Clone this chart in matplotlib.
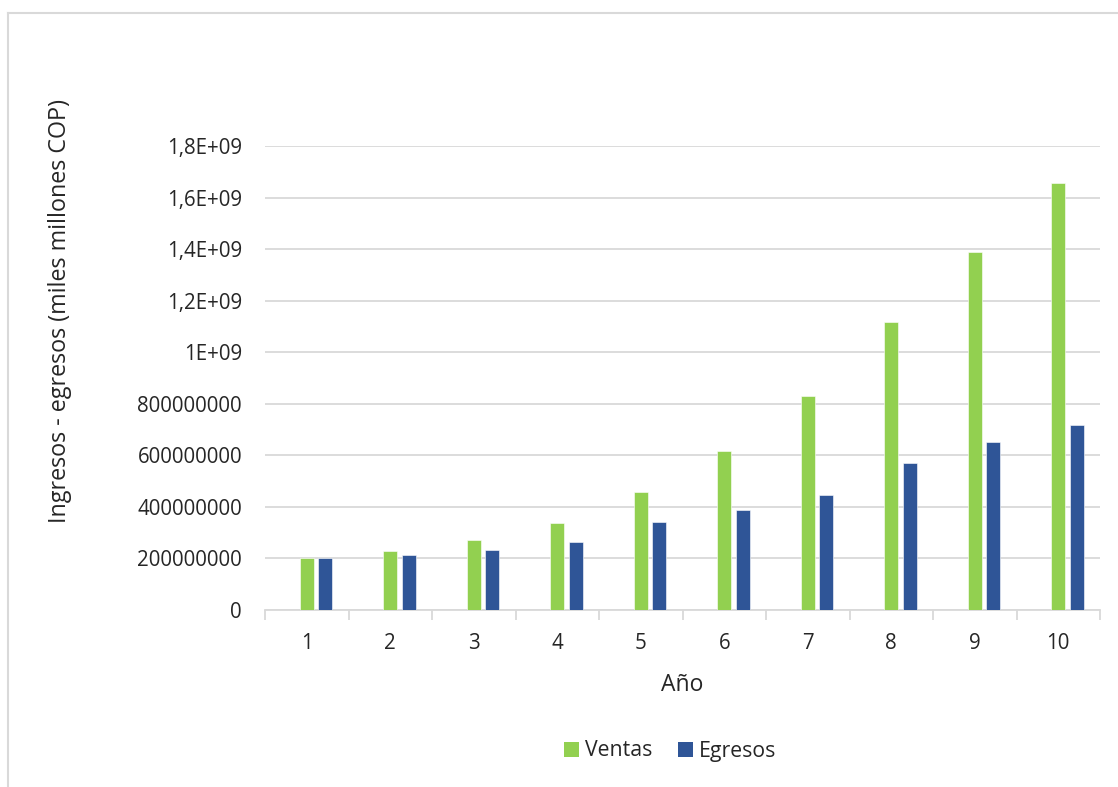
import matplotlib
matplotlib.use("Agg")
import matplotlib.pyplot as plt
from matplotlib.lines import Line2D
from matplotlib.patches import Patch
import numpy as np

plt.rcParams['font.family'] = ['Open Sans', 'DejaVu Sans']

# Data
years = [1, 2, 3, 4, 5, 6, 7, 8, 9, 10]
ventas = [2.00e8, 2.28e8, 2.71e8, 3.38e8, 4.57e8, 6.15e8, 8.30e8, 1.118e9, 1.389e9, 1.657e9]
egresos = [2.01e8, 2.15e8, 2.31e8, 2.64e8, 3.40e8, 3.88e8, 4.48e8, 5.71e8, 6.53e8, 7.17e8]
y_ticks = [0, 2e8, 4e8, 6e8, 8e8, 1e9, 1.2e9, 1.4e9, 1.6e9, 1.8e9]
y_tick_labels = ["0", "200000000", "400000000", "600000000", "800000000",
                 "1E+09", "1,2E+09", "1,4E+09", "1,6E+09", "1,8E+09"]

GREEN = "#92D050"
BLUE = "#2F5597"
GRID = "#D9D9D9"
TEXT = "#262626"

W, H = 1118, 787
fig = plt.figure(figsize=(W / 100, H / 100), dpi=100)
ax = fig.add_axes([265 / W, 1 - 610 / H, (1100 - 265) / W, (610 - 146) / H])

x = np.array(years, dtype=float)
bw = 0.168
ax.bar(x, ventas, width=bw, color=GREEN, edgecolor="white", linewidth=0.4, zorder=3)
ax.bar(x + 0.223, egresos, width=bw, color=BLUE, edgecolor="white", linewidth=0.4, zorder=3)

ax.set_xlim(0.5, 10.5)
ax.set_ylim(0, 1.8e9)

ax.set_yticks(y_ticks)
ax.set_yticklabels(y_tick_labels)
ax.tick_params(axis="y", length=0, pad=16.5, labelsize=14.8, labelcolor=TEXT)
ax.grid(axis="y", color=GRID, linewidth=1.3, zorder=0)

ax.set_xticks(np.arange(0.5, 11.0, 1.0))
ax.set_xticklabels([])
ax.set_xticks(x, minor=True)
ax.set_xticklabels([str(v) for v in years], minor=True)
ax.tick_params(axis="x", which="major", length=7, width=1.3, color=GRID, direction="out")
ax.tick_params(axis="x", which="minor", length=0, pad=16.5, labelsize=14.8, labelcolor=TEXT)

for side in ("top", "right", "left"):
    ax.spines[side].set_visible(False)
ax.spines["bottom"].set_color(GRID)
ax.spines["bottom"].set_linewidth(1.3)
ax.set_axisbelow(True)

ax.set_xlabel("Año", fontsize=16.5, color=TEXT, labelpad=14)
fig.text(60 / W, 1 - 311 / H, "Ingresos - egresos (miles millones COP)",
         rotation=90, ha="center", va="center", fontsize=16.8, color=TEXT)

handles = [Patch(facecolor=GREEN, edgecolor="none", label="Ventas"),
           Patch(facecolor=BLUE, edgecolor="none", label="Egresos")]
fig.legend(handles=handles, loc="center", bbox_to_anchor=(670 / W, 1 - 751 / H),
           ncol=2, frameon=False, fontsize=15.3, handlelength=0.7, handleheight=0.7,
           handletextpad=0.3, columnspacing=1.2, labelcolor=TEXT)

# Outer chart frame (top and left edges)
fig.add_artist(Line2D([8 / W, 1.0], [1 - 13 / H, 1 - 13 / H], color=GRID, linewidth=1.5))
fig.add_artist(Line2D([8 / W, 8 / W], [0.0, 1 - 13 / H], color=GRID, linewidth=1.5))

fig.savefig("out.png", dpi=100)
